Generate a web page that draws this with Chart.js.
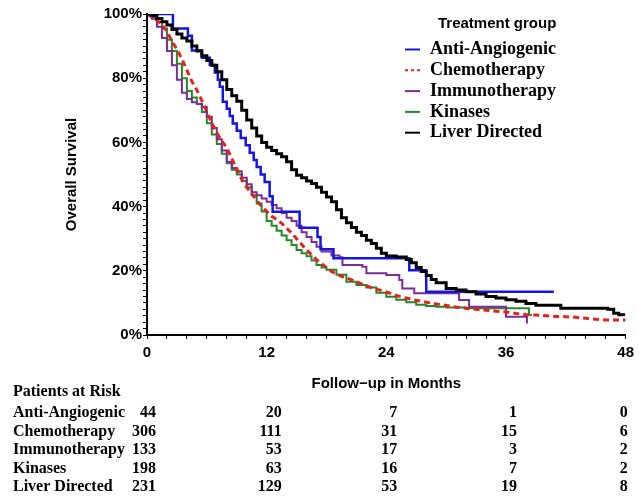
<!DOCTYPE html>
<html lang="en">
<head>
  <meta charset="UTF-8" />
  <title>Overall Survival by Treatment Group</title>
  <script src="https://cdn.jsdelivr.net/npm/chart.js"></script>
  <style>
    body { margin: 0; background: #fff; }
  </style>
</head>
<body>

  <canvas id="survivalChart" width="639" height="502"></canvas>

  <script>
    // Kaplan-Meier estimates: follow-up month -> % still alive
    const groups = ['Anti-Angiogenic', 'Chemotherapy', 'Immunotherapy', 'Kinases', 'Liver Directed'];

    const antiTimes = [0, 2.6, 4.1, 4.5, 5.5, 6.3, 6.8, 7.1, 7.3, 7.6, 8.0, 8.3, 8.6, 9.0, 9.4, 9.9, 10.3, 10.7, 11.0, 11.4, 11.8, 12.3, 12.6, 15.3, 17.1, 17.4, 18.7, 26.3, 28.0, 40.8];
    const antiSurv  = [100, 95.5, 93.2, 88.6, 86.4, 84.1, 81.8, 79.5, 77.3, 72.7, 70.5, 68.2, 65.9, 63.6, 61.4, 59.1, 56.8, 54.5, 52.3, 50.0, 47.7, 43.2, 38.4, 33.4, 30.5, 26.7, 23.9, 20.2, 13.5, 13.5];

    const chemoTimes = [0, 0.5, 1, 1.5, 2, 2.5, 3, 3.5, 4, 4.5, 5, 5.5, 6, 6.5, 7, 7.5, 8, 8.5, 9, 9.5, 10, 10.5, 11, 11.5, 12, 12.5, 13, 13.5, 14, 14.5, 15, 15.5, 16, 16.5, 17, 17.5, 18, 18.5, 19, 19.5, 20, 21, 22, 23, 24, 25, 26, 27, 28, 29, 30, 31, 32, 33, 34, 35, 36, 37, 38, 39, 40, 41, 42, 43, 44, 45, 46, 47, 48];
    const chemoSurv  = [100, 99.0, 98.0, 96.8, 94.5, 91.5, 89.0, 86.0, 82.5, 79.0, 76.3, 73.0, 69.5, 66.0, 63.0, 60.5, 58.3, 55.0, 51.8, 48.5, 46.0, 44.0, 42.0, 40.0, 38.5, 37.0, 36.0, 34.8, 33.3, 31.8, 30.0, 28.3, 26.5, 25.0, 23.5, 22.2, 21.0, 19.8, 19.0, 18.3, 17.8, 16.6, 15.3, 14.3, 13.4, 12.3, 11.5, 10.8, 10.2, 9.7, 9.2, 8.7, 8.3, 8.0, 7.7, 7.4, 7.2, 6.7, 6.4, 6.2, 6.0, 5.8, 5.7, 5.5, 5.2, 4.9, 4.7, 4.7, 4.7];

    const immunoTimes = [0, 0.5, 1, 1.5, 2, 2.5, 3, 3.5, 4, 4.5, 5, 5.5, 6, 6.5, 7, 7.5, 8, 8.5, 9, 9.5, 10, 10.5, 11, 11.5, 12, 12.5, 13, 13.5, 14, 14.5, 15, 15.5, 16, 16.5, 17, 17.5, 18.5, 19.3, 19.6, 21.6, 22, 24, 25.3, 25.6, 26.8, 31, 31.3, 32.3, 36, 38.1];
    const immunoSurv  = [100, 98.5, 96, 92.5, 88.5, 84, 79.5, 75.5, 73.5, 72.5, 72, 71, 68, 64.5, 61, 57.5, 54, 52, 51, 49, 47, 44.5, 43.5, 42.5, 41.5, 40.5, 39.5, 38, 36.5, 35.5, 34, 32, 30.5, 29, 27.5, 26, 24.8, 24.2, 21.8, 21.3, 19.2, 18.7, 17.1, 14.5, 13, 13, 10.9, 8.8, 5.7, 3.6];

    const kinaseTimes = [0, 0.5, 1, 1.5, 2, 2.5, 3, 3.5, 4, 4.5, 5, 5.5, 6, 6.5, 7, 7.5, 8, 8.5, 9, 9.5, 10, 10.5, 11, 11.5, 12, 12.5, 13, 13.5, 14, 14.5, 15, 15.5, 16, 16.5, 17, 17.5, 18, 19, 20, 21, 22, 23, 24, 25, 26, 27, 28, 29, 30, 32, 34, 36, 38.3, 38.6];
    const kinaseSurv  = [100, 99, 97.5, 95.5, 92, 88.5, 84.5, 80, 76, 74, 72, 69.5, 66, 62.5, 59.5, 56.5, 53.5, 51.5, 50, 48, 46, 43.5, 41, 38.5, 35.5, 34, 32.5, 31, 29.5, 28, 26.5, 25.5, 24.5, 23.2, 21.8, 21, 20.3, 18.8, 16.6, 15.6, 14.8, 13.2, 11.9, 11.0, 10.2, 9.4, 9.0, 8.8, 8.6, 8.3, 8.3, 8.3, 6.2, 6.2];

    const liverTimes = [0, 0.5, 1, 1.5, 2, 2.5, 3, 3.5, 4, 4.5, 5, 5.5, 6, 6.5, 7, 7.5, 8, 8.5, 9, 9.5, 10, 10.5, 11, 11.5, 12, 12.5, 13, 13.5, 14, 14.5, 15, 15.5, 16, 16.5, 17, 17.5, 18, 18.5, 19, 19.5, 20, 20.5, 21, 21.5, 22, 22.5, 23, 23.5, 24, 25, 26, 26.5, 27, 27.5, 28, 28.5, 29, 30, 31, 32, 33, 34, 35, 36, 37, 38, 39, 41.5, 46.2, 46.8, 47.3, 47.8];
    const liverSurv  = [100, 99.5, 98.6, 97.6, 96.6, 95.2, 93.8, 92.5, 91.6, 90, 88.5, 87, 85.5, 84, 82, 79.5, 76.5, 74.5, 72.8, 70, 67, 64.5, 62, 60, 58.5, 57.5, 56.5, 55.5, 54, 51.5, 49.8, 49, 48, 47.2, 46, 44.5, 43, 41.5, 39, 36.5, 35, 33.5, 32, 31, 29.5, 28.5, 27, 25.5, 24.6, 24.3, 23.5, 22.5, 21, 19.8, 18.5, 17.3, 16.3, 14.5, 14, 13.5, 12.8, 12, 11.5, 11, 10.5, 9.8, 9.3, 8.3, 8.0, 6.8, 6.3, 5.9];

    // numbers at risk under the x axis
    const riskMonths = [0, 12, 24, 36, 48];
    const riskAnti   = [44, 20, 7, 1, 0];
    const riskChemo  = [306, 111, 31, 15, 6];
    const riskImmuno = [133, 53, 17, 3, 2];
    const riskKinase = [198, 63, 16, 7, 2];
    const riskLiver  = [231, 129, 53, 19, 8];

    const toPoints = (times, surv) => times.map((t, i) => ({ x: t, y: surv[i] }));

    const SANS = '"Liberation Sans", Arial, sans-serif';
    const SERIF = '"Liberation Serif", "Times New Roman", serif';

    // legend drawn inside the plot, top right
    const legendBox = {
      id: 'legendBox',
      afterDraw(chart) {
        const ctx = chart.ctx;
        ctx.save();
        ctx.fillStyle = '#000';
        ctx.textBaseline = 'middle';
        ctx.textAlign = 'left';
        ctx.font = 'bold 15px ' + SANS;
        ctx.fillText('Treatment group', 438, 24);
        chart.data.datasets.forEach((ds, i) => {
          const y = 49.5 + i * 20.8;
          ctx.strokeStyle = ds.borderColor;
          ctx.lineWidth = 2;
          ctx.setLineDash(ds.borderDash ? [3, 3] : []);
          ctx.beginPath();
          ctx.moveTo(405, y);
          ctx.lineTo(420, y);
          ctx.stroke();
          ctx.setLineDash([]);
          ctx.font = 'bold 18px ' + SERIF;
          ctx.fillText(ds.label, 430, y);
        });
        ctx.restore();
      }
    };

    // "Patients at Risk" table, columns lined up with the month ticks
    const riskTable = {
      id: 'riskTable',
      afterDraw(chart) {
        const ctx = chart.ctx;
        const xs = chart.scales.x;
        const rows = [riskAnti, riskChemo, riskImmuno, riskKinase, riskLiver];
        const colShift = [9, 15, 11, 11, 2];
        ctx.save();
        ctx.fillStyle = '#000';
        ctx.textBaseline = 'middle';
        ctx.font = 'bold 16px ' + SERIF;
        ctx.textAlign = 'left';
        ctx.fillText('Patients at Risk', 13, 392);
        rows.forEach((row, i) => {
          const y = 413 + i * 18.5;
          ctx.textAlign = 'left';
          ctx.fillText(groups[i], 13, y);
          ctx.textAlign = 'right';
          row.forEach((n, j) => {
            ctx.fillText(String(n), xs.getPixelForValue(riskMonths[j]) + colShift[j], y);
          });
        });
        ctx.restore();
      }
    };

    // each value holds until the month of the next event, then drops
    const seriesStyle = (label, times, surv, color, width, extra) => Object.assign({
      label: label,
      data: toPoints(times, surv),
      borderColor: color,
      backgroundColor: color,
      borderWidth: width,
      pointRadius: 0,
      stepped: 'before',
      fill: false
    }, extra || {});

    new Chart(document.getElementById('survivalChart'), {
      type: 'line',
      data: {
        datasets: [
          seriesStyle(groups[0], antiTimes, antiSurv, '#1414e6', 2.5, { order: 1 }),
          seriesStyle(groups[1], chemoTimes, chemoSurv, '#e4211c', 3, { order: 2, stepped: false, borderDash: [6, 4] }),
          seriesStyle(groups[2], immunoTimes, immunoSurv, '#7d2b96', 2, { order: 3 }),
          seriesStyle(groups[3], kinaseTimes, kinaseSurv, '#23882a', 2, { order: 4 }),
          seriesStyle(groups[4], liverTimes, liverSurv, '#000000', 3, { order: 0 })
        ]
      },
      options: {
        responsive: false,
        animation: false,
        layout: { padding: { left: 55, right: 12, top: 14, bottom: 109 } },
        plugins: {
          legend: { display: false },
          tooltip: { enabled: false }
        },
        scales: {
          x: {
            type: 'linear',
            min: 0,
            max: 48,
            afterFit: (scale) => { scale.height = 58; },
            border: { display: true, color: '#000', width: 2 },
            grid: { drawOnChartArea: false, drawTicks: true, tickLength: 4, color: '#000' },
            ticks: {
              stepSize: 2,
              autoSkip: false,
              maxRotation: 0,
              padding: 5,
              color: '#000',
              font: { family: SANS, size: 15, weight: 'bold' },
              callback: (v) => (v % 12 === 0 ? String(v) : '')
            },
            title: {
              display: true,
              text: 'Follow\u2212up in Months',
              color: '#000',
              font: { family: SANS, size: 15, weight: 'bold' },
              padding: { top: 0, bottom: 0 }
            }
          },
          y: {
            min: 0,
            max: 100,
            afterFit: (scale) => { scale.width = 92; },
            border: { display: true, color: '#000', width: 2 },
            grid: { drawOnChartArea: false, drawTicks: true, tickLength: 4, color: '#000' },
            ticks: {
              stepSize: 2,
              autoSkip: false,
              padding: 1,
              color: '#000',
              font: { family: SANS, size: 15, weight: 'bold' },
              callback: (v) => (v % 20 === 0 ? v + '%' : '')
            },
            title: {
              display: true,
              text: 'Overall Survival',
              color: '#000',
              font: { family: SANS, size: 15, weight: 'bold' },
              padding: { top: 8, bottom: 0 }
            }
          }
        }
      },
      plugins: [legendBox, riskTable]
    });
  </script>

</body>
</html>
